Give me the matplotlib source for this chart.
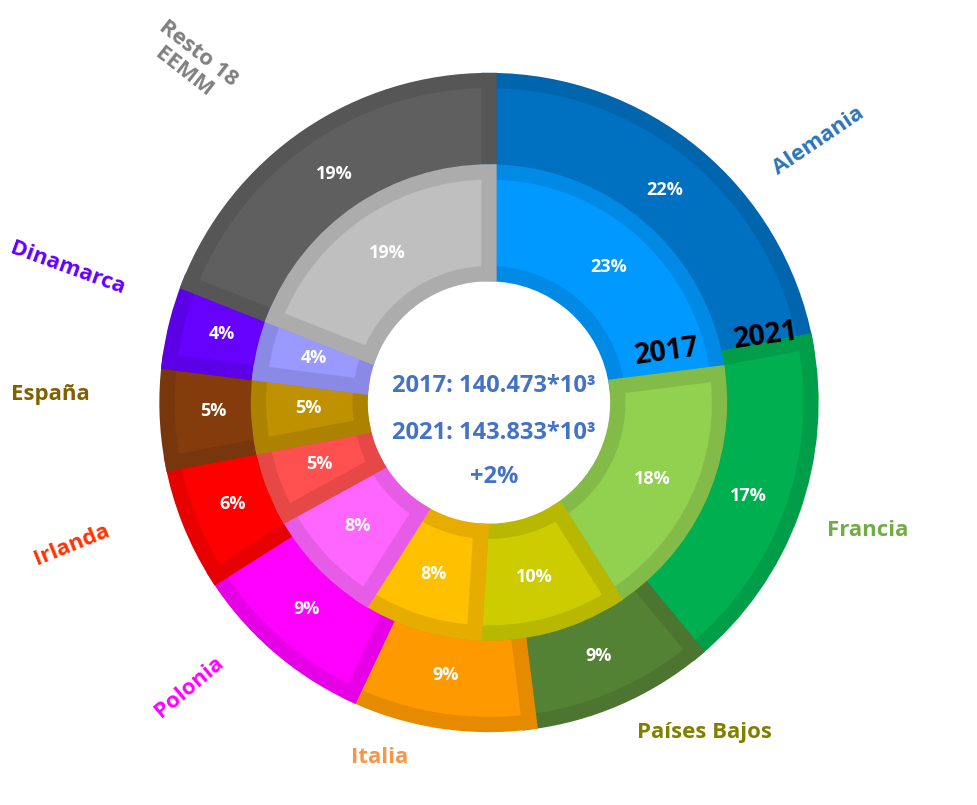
import numpy as np
import matplotlib.pyplot as plt
from matplotlib.colors import to_rgb

# data
countries = ["Alemania", "Francia", "Países Bajos", "Italia", "Polonia",
             "Irlanda", "España", "Dinamarca", "Resto 18\nEEMM"]
share_2017 = [23, 18, 10, 8, 8, 5, 5, 4, 19]
share_2021 = [22, 17, 9, 9, 9, 6, 5, 4, 19]
total_2017 = "140.473"
total_2021 = "143.833"
change = "+2%"

outer_colors = ["#0070C0", "#00B050", "#548235", "#FF9900", "#FF00FF",
                "#FF0000", "#843C0C", "#6600FF", "#5F5F5F"]
inner_colors = ["#0099FF", "#92D050", "#CCCC00", "#FFC000", "#FF66FF",
                "#FF5050", "#BF9000", "#9999FF", "#BFBFBF"]
label_colors = ["#2E75B6", "#70AD47", "#808000", "#F79646", "#FF00FF",
                "#FF3300", "#806000", "#6600FF", "#808080"]


def darker(c, f=0.9):
    return tuple(v * f for v in to_rgb(c))


def main():
    W, H = 978, 805
    cx, cy, R = 528, 416, 342
    fig = plt.figure(figsize=(W / 100, H / 100), dpi=100)
    ax = fig.add_axes([0, 0, 1, 1])
    ax.set_xlim(-cx / R, (W - cx) / R)
    ax.set_ylim(-(H - cy) / R, cy / R)
    ax.set_aspect("equal")
    ax.axis("off")

    r_mid = 0.716
    r_hole = 0.40
    txt = dict(color="white", fontsize=13, fontweight="bold", family="Open Sans")

    w_out, t_out, a_out = ax.pie(
        share_2021, radius=1.0, startangle=90, counterclock=False,
        colors=outer_colors, autopct=lambda p: f"{p:.0f}%",
        pctdistance=0.857, textprops=txt,
        wedgeprops=dict(width=1.0 - r_mid, linewidth=11))
    w_in, t_in, a_in = ax.pie(
        share_2017, radius=r_mid, startangle=90, counterclock=False,
        colors=inner_colors, autopct=lambda p: f"{p:.0f}%",
        pctdistance=0.56 / r_mid, textprops=txt,
        wedgeprops=dict(width=r_mid - r_hole, linewidth=11))

    # border only on the inside of each wedge
    for wedges, cols in ((w_out, outer_colors), (w_in, inner_colors)):
        for w, c in zip(wedges, cols):
            w.set_edgecolor(darker(c))
            w.set_clip_path(w)

    def px(x, y):
        return (x - cx) / R, (cy - y) / R

    # country labels
    label_pos = [(878, 138, 34), (930, 552, 0), (757, 766, 0), (412, 793, 0),
                 (210, 718, 40), (85, 567, 22), (62, 407, 0), (80, 274, -20),
                 (212, 55, -38)]
    for name, col, (x, y, rot) in zip(countries, label_colors, label_pos):
        ax.text(*px(x, y), name, color=col, fontsize=16, fontweight="bold",
                family="Open Sans", rotation=rot, ha="center", va="center",
                rotation_mode="anchor", linespacing=1.15)

    # ring year labels
    ax.text(*px(717, 362), "2017", fontsize=20.5, fontweight="bold",
            family="Open Sans", rotation=8, ha="center", va="center")
    ax.text(*px(822, 345), "2021", fontsize=20.5, fontweight="bold",
            family="Open Sans", rotation=8, ha="center", va="center")

    # centre text
    blue = "#4472C4"
    for y, s in ((398, f"2017: {total_2017}*10³"),
                 (448, f"2021: {total_2021}*10³"),
                 (495, change)):
        ax.text(*px(533, y), s, color=blue, fontsize=17, fontweight="bold",
                family="Open Sans", ha="center", va="center")

    fig.savefig("out.png", dpi=100)


if __name__ == "__main__":
    main()
